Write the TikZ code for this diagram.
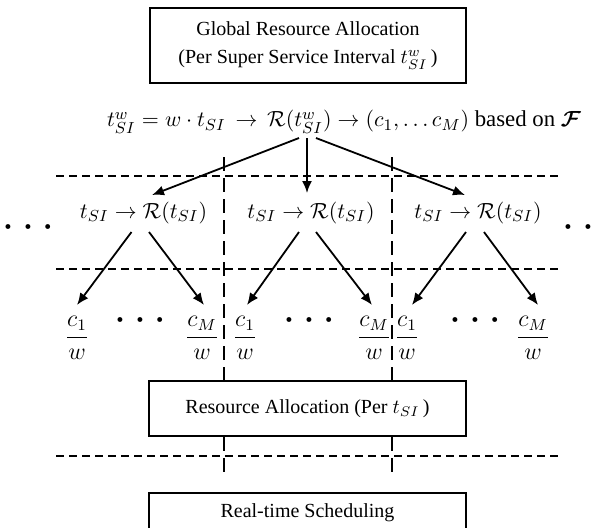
\documentclass[tikz,border=0pt]{standalone}
\usepackage{amsmath,amsbsy}
\usepackage{fontspec}
\setmainfont{Liberation Serif}
\usetikzlibrary{arrows.meta}
\newcommand{\mydots}{$\bullet\kern4.6pt\bullet\kern4.6pt\bullet$}
\begin{document}
\begin{tikzpicture}[x=0.5pt,y=-0.5pt,
  box/.style={draw,line width=0.6pt,inner sep=0pt,align=center,font=\fontsize{10}{12.5}\selectfont},
  hdash/.style={line width=0.55pt,dash pattern=on 4pt off 2.5pt},
  vdash/.style={line width=0.55pt,dash pattern=on 7pt off 3.5pt},
  arr/.style={line width=0.9pt,-{Latex[length=6pt,width=5pt]}},
  mtext/.style={inner sep=0pt,font=\fontsize{11}{13}\selectfont},
  ftext/.style={inner sep=0pt,font=\fontsize{11.4}{13}\selectfont},
  dotsnode/.style={inner sep=0pt,font=\fontsize{5.5}{6}\selectfont},
  fracnode/.style={inner sep=0pt,font=\fontsize{11.5}{13}\selectfont}]
\useasboundingbox (0,0) rectangle (600,527);
% boxes
\node[box,minimum width=158pt,minimum height=37.5pt] (top) at (308,45.5)
  {Global Resource Allocation\\[1.5pt](Per Super Service Interval $t_{SI}^{w}$\,)};
\node[box,minimum width=158.5pt,minimum height=27.5pt] (ra) at (307.5,408.5)
  {Resource Allocation (Per $t_{SI}$\,)};
\node[box,minimum width=158.5pt,minimum height=20pt] (rt) at (307.5,513)
  {Real-time Scheduling};
% formula
\node[ftext] (f) at (344,122)
  {$t_{SI}^{w}=w\cdot t_{SI}\,\rightarrow\,\mathcal{R}(t_{SI}^{w})\rightarrow(c_1,\ldots c_M)$ based on $\boldsymbol{\mathcal{F}}$};
% dashed grid
\draw[hdash] (56,176) -- (560,176);
\draw[hdash] (56,269) -- (560,269);
\draw[hdash] (56,456) -- (560,456);
\draw[vdash] (224,157) -- (224,381);
\draw[vdash] (392,157) -- (392,381);
\draw[vdash] (224,437) -- (224,474);
\draw[vdash] (392,437) -- (392,474);
% row nodes
\node[mtext] (r1) at (143.5,213) {$t_{SI}\rightarrow\mathcal{R}(t_{SI})$};
\node[mtext] (r2) at (311,213) {$t_{SI}\rightarrow\mathcal{R}(t_{SI})$};
\node[mtext] (r3) at (478,213) {$t_{SI}\rightarrow\mathcal{R}(t_{SI})$};
\node[dotsnode] (dl) at (28,227) {\mydots};
\node[dotsnode] (dr) at (588,227) {\mydots};
% arrows from formula
\coordinate (s1) at (299,138); \coordinate (s2) at (307,138); \coordinate (s3) at (316,138);
\coordinate (e1) at (152,195); \coordinate (e2) at (307,193); \coordinate (e3) at (465,195);
\draw[arr] (s1) -- (e1);
\draw[arr] (s2) -- (e2);
\draw[arr] (s3) -- (e3);
% fractions
\node[fracnode] (g1a) at (77,338) {$\dfrac{c_1}{w}$};
\node[fracnode] (g1b) at (202,338) {$\dfrac{c_M}{w}$};
\node[fracnode] (g2a) at (245,338) {$\dfrac{c_1}{w}$};
\node[fracnode] (g2b) at (374,338) {$\dfrac{c_M}{w}$};
\node[fracnode] (g3a) at (407,338) {$\dfrac{c_1}{w}$};
\node[fracnode] (g3b) at (533,338) {$\dfrac{c_M}{w}$};
\node[dotsnode] (m1) at (140,320) {\mydots};
\node[dotsnode] (m2) at (309,320) {\mydots};
\node[dotsnode] (m3) at (475,320) {\mydots};
% lower arrows
\coordinate (r1l) at (131.5,232); \coordinate (r1r) at (149,232);
\coordinate (r2l) at (299,232); \coordinate (r2r) at (316,232);
\coordinate (r3l) at (466,232); \coordinate (r3r) at (484,232);
\coordinate (t1a) at (77,305); \coordinate (t1b) at (204,305);
\coordinate (t2a) at (247,305); \coordinate (t2b) at (372,305);
\coordinate (t3a) at (412,305); \coordinate (t3b) at (538,305);
\draw[arr] (r1l) -- (t1a);
\draw[arr] (r1r) -- (t1b);
\draw[arr] (r2l) -- (t2a);
\draw[arr] (r2r) -- (t2b);
\draw[arr] (r3l) -- (t3a);
\draw[arr] (r3r) -- (t3b);
\end{tikzpicture}
\end{document}
